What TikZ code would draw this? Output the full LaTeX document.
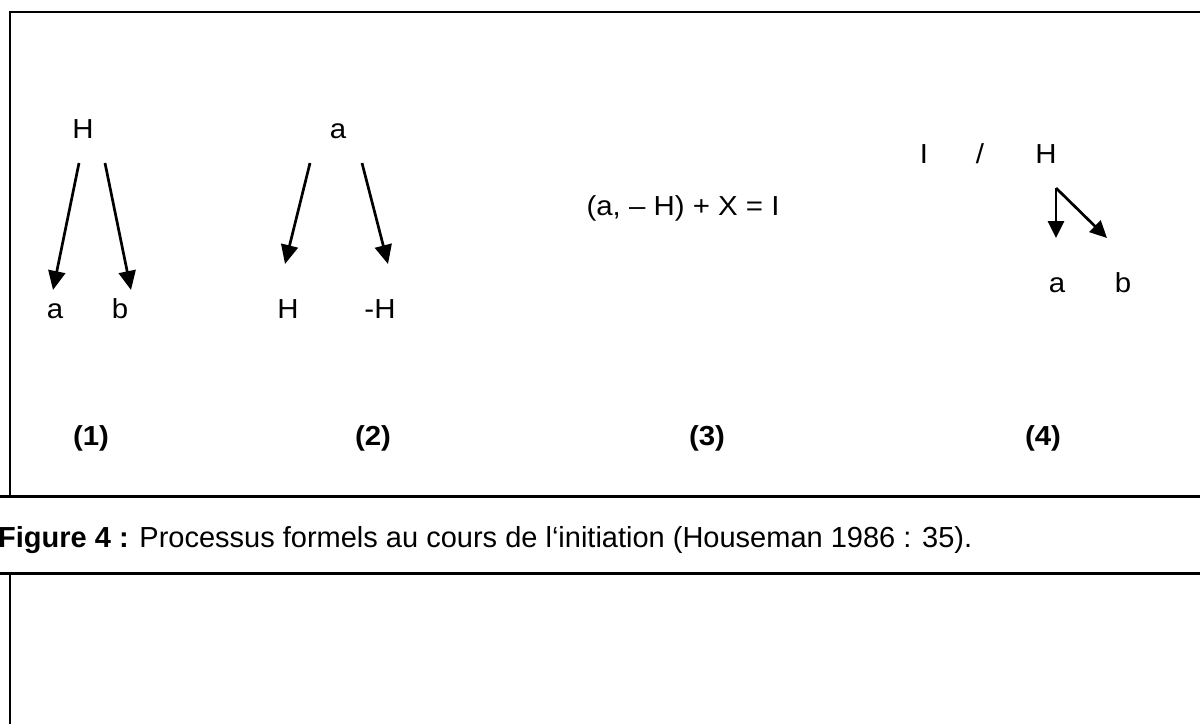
\documentclass[tikz,border=0pt]{standalone}
\usepackage{fontspec}
\setmainfont{Liberation Sans}
\newfontfamily\diagfont[FakeStretch=1.07]{Liberation Sans}
\usetikzlibrary{arrows.meta}
\begin{document}
\begin{tikzpicture}[x=1pt,y=-1pt,
  lbl/.style={anchor=base,inner sep=0pt,font={\diagfont\fontsize{27.5}{32}\selectfont}},
  num/.style={anchor=base,inner sep=0pt,font={\diagfont\bfseries\fontsize{27.5}{32}\selectfont}},
  border/.style={line width=2.6pt},
  rule/.style={line width=3pt},
  arr/.style={line width=2.7pt,-{Triangle[length=19pt,width=17pt]}},
  arrs/.style={line width=2.7pt,-{Triangle[length=17pt,width=16pt]}}]
\useasboundingbox (0,0) rectangle (1200,724);
% frames
\draw[border] (10,496) -- (10,12) -- (1200,12);
\draw[rule] (0,496) -- (1200,496);
\draw[rule] (0,573.5) -- (1200,573.5);
\draw[border] (10,573.5) -- (10,724);
% caption
\node[anchor=base west,inner sep=0pt,font={\fontsize{29}{34}\selectfont}] (cap) at (-2,547)
  {\textbf{Figure 4 :} Processus formels au cours de l‘initiation (Houseman 1986 : 35).};
% panel 1
\node[lbl] (p1H) at (83,138) {H};
\node[lbl] (p1a) at (55,318) {a};
\node[lbl] (p1b) at (120,318) {b};
\coordinate (p1s1) at (79,163);  \coordinate (p1e1) at (53,290);
\coordinate (p1s2) at (105,163); \coordinate (p1e2) at (131,290);
\draw[arr] (p1s1) -- (p1e1);
\draw[arr] (p1s2) -- (p1e2);
\node[num] (n1) at (91,445) {(1)};
% panel 2
\node[lbl] (p2a) at (338,138) {a};
\node[lbl] (p2H) at (288,318) {H};
\node[lbl] (p2mH) at (380,318) {-H};
\coordinate (p2s1) at (310,163); \coordinate (p2e1) at (285,264);
\coordinate (p2s2) at (362,163); \coordinate (p2e2) at (388,264);
\draw[arr] (p2s1) -- (p2e1);
\draw[arr] (p2s2) -- (p2e2);
\node[num] (n2) at (373,445) {(2)};
% panel 3
\node[lbl] (p3) at (683,215) {(a, – H) + X = I};
\node[num] (n3) at (707,445) {(3)};
% panel 4
\node[lbl] (p4I) at (924,163) {I};
\node[lbl] (p4sl) at (980,163) {/};
\node[lbl] (p4H) at (1046,163) {H};
\node[lbl] (p4a) at (1057,292) {a};
\node[lbl] (p4b) at (1123,292) {b};
\coordinate (p4s) at (1056,188);
\coordinate (p4e1) at (1056,238);
\coordinate (p4e2) at (1107,238);
\draw[arrs] (p4s) -- (p4e1);
\draw[arrs] (p4s) -- (p4e2);
\node[num] (n4) at (1043,445) {(4)};
\end{tikzpicture}
\end{document}
